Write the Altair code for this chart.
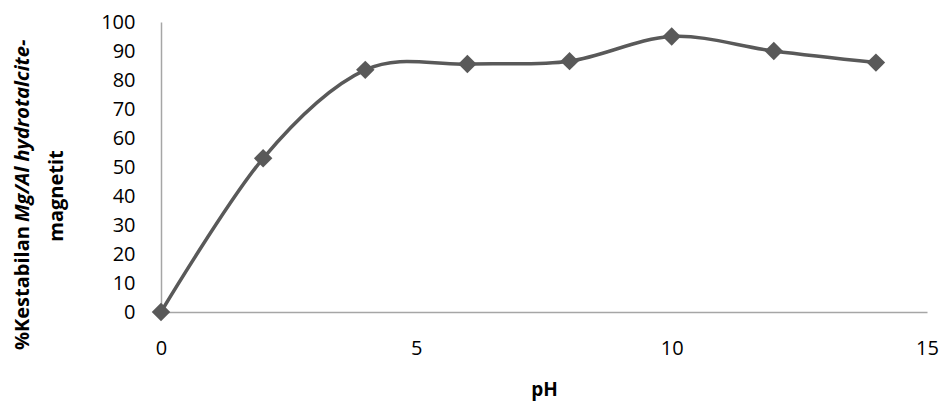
import altair as alt
import pandas as pd

ph = [0, 2, 4, 6, 8, 10, 12, 14]
stability = [0, 53, 83.5, 85.5, 86.5, 95, 90, 86]

x_title = "pH"
y_title_part1 = "%Kestabilan"
y_title_part2 = "Mg/Al hydrotalcite-"
y_title_line2 = "magnetit"

df = pd.DataFrame({"pH": ph, "val": stability})

FONT = "Open Sans"

base = alt.Chart(df).encode(
    x=alt.X("pH:Q",
            scale=alt.Scale(domain=[0, 15], nice=False),
            axis=alt.Axis(values=[0, 5, 10, 15], title=x_title, grid=False, ticks=False,
                          labelFlush=False,
                          domainColor="#a6a6a6", domainWidth=1.5,
                          labelFont=FONT, labelFontSize=20, labelColor="#000000",
                          labelPadding=26, titleFont=FONT, titleFontSize=19,
                          titleFontWeight="bold", titleColor="#000000", titlePadding=22)),
    y=alt.Y("val:Q",
            scale=alt.Scale(domain=[0, 100], nice=False),
            axis=alt.Axis(values=list(range(0, 101, 10)), title=None, grid=False, ticks=False,
                          labelFlush=False,
                          domainColor="#a6a6a6", domainWidth=1.5,
                          labelFont=FONT, labelFontSize=20, labelColor="#000000",
                          labelPadding=26)),
)

line = base.mark_line(color="#595959", strokeWidth=3.5, interpolate="cardinal")
pts = base.mark_point(shape="diamond", filled=True, color="#595959", size=340, opacity=1)

tdf = pd.DataFrame({"t": [y_title_part1]})
t1 = alt.Chart(tdf).mark_text(angle=270, align="left", baseline="middle", font=FONT,
                              fontSize=20, fontWeight="bold", color="#000000").encode(
    text="t:N", x=alt.value(-138), y=alt.value(328))
tdf2 = pd.DataFrame({"t": [y_title_part2]})
t2 = alt.Chart(tdf2).mark_text(angle=270, align="left", baseline="middle", font=FONT,
                               fontSize=20, fontWeight="bold", fontStyle="italic",
                               color="#000000").encode(
    text="t:N", x=alt.value(-138), y=alt.value(200))
tdf3 = pd.DataFrame({"t": [y_title_line2]})
t3 = alt.Chart(tdf3).mark_text(angle=270, align="center", baseline="middle", font=FONT,
                               fontSize=20, fontWeight="bold", color="#000000").encode(
    text="t:N", x=alt.value(-104), y=alt.value(174))

chart = alt.layer(line, pts, t1, t2, t3).properties(
    width=766, height=290,
    autosize=alt.AutoSizeParams(type="none"),
    padding={"left": 153, "top": 14, "right": 17, "bottom": 89},
    background="white",
).configure_view(stroke=None)

chart.save("out.html", embed_options={"renderer": "svg", "actions": False})
